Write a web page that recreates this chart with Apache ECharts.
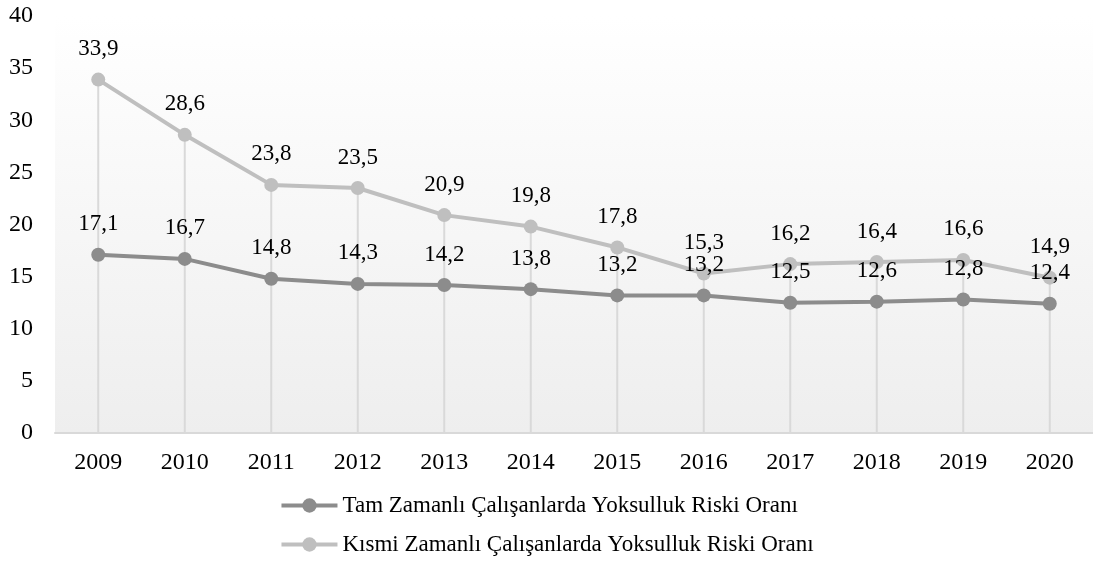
<!DOCTYPE html>
<html>
<head>
<meta charset="utf-8">
<script src="https://cdn.jsdelivr.net/npm/echarts@6/dist/echarts.min.js"></script>
<style>
  html, body { margin: 0; padding: 0; background: #fff; }
  #main { width: 1093px; height: 573px; }
</style>
</head>
<body>
<div id="main"></div>
<script>
// veriler
var years = ['2009', '2010', '2011', '2012', '2013', '2014', '2015', '2016', '2017', '2018', '2019', '2020'];
var tamName = 'Tam Zamanlı Çalışanlarda Yoksulluk Riski Oranı';
var kismiName = 'Kısmi Zamanlı Çalışanlarda Yoksulluk Riski Oranı';
var tamValues = [17.1, 16.7, 14.8, 14.3, 14.2, 13.8, 13.2, 13.2, 12.5, 12.6, 12.8, 12.4];
var kismiValues = [33.9, 28.6, 23.8, 23.5, 20.9, 19.8, 17.8, 15.3, 16.2, 16.4, 16.6, 14.9];

// dikey çizgiler (drop lines) en yüksek noktaya kadar
var dropValues = kismiValues.map(function (v, i) { return Math.max(v, tamValues[i]); });

var font = '"Liberation Serif", "Times New Roman", serif';
var fs = 23;
var axisFs = 24;
var fmt = function (p) { return String(p.value).replace('.', ','); };

var myChart = echarts.init(document.getElementById('main'));
var option = {
    backgroundColor: '#fff',
    animation: false,
    textStyle: { fontFamily: font },
    grid: {
        left: 55,
        right: -3,
        top: 16,
        bottom: 140,
        show: true,
        borderWidth: 0,
        backgroundColor: new echarts.graphic.LinearGradient(0, 0, 0, 1, [
            { offset: 0, color: '#ffffff' },
            { offset: 1, color: '#eeeeee' }
        ])
    },
    legend: {
        orient: 'vertical',
        left: 'center',
        top: 489,
        itemGap: 16,
        itemWidth: 56,
        itemHeight: 18,
        data: [tamName, kismiName],
        lineStyle: { width: 4 },
        textStyle: { fontFamily: font, fontSize: fs, color: '#000' }
    },
    xAxis: {
        type: 'category',
        data: years,
        axisLine: { lineStyle: { color: '#d9d9d9', width: 2 } },
        axisTick: { show: false },
        axisLabel: { fontFamily: font, fontSize: axisFs, color: '#000', margin: 18 }
    },
    yAxis: {
        type: 'value',
        min: 0,
        max: 40,
        interval: 5,
        axisLine: { show: false },
        axisTick: { show: false },
        splitLine: { show: false },
        axisLabel: { fontFamily: font, fontSize: axisFs, color: '#000', margin: 22, align: 'right' }
    },
    series: [{
        name: 'drop',
        type: 'bar',
        data: dropValues,
        barWidth: 2,
        silent: true,
        itemStyle: { color: '#d9d9d9' },
        z: 1
    }, {
        name: tamName,
        type: 'line',
        data: tamValues,
        symbol: 'circle',
        symbolSize: 14,
        lineStyle: { color: '#8c8c8c', width: 4 },
        itemStyle: { color: '#8c8c8c' },
        label: {
            show: true,
            position: 'top',
            distance: 12,
            fontFamily: font,
            fontSize: fs,
            color: '#000',
            formatter: fmt
        },
        z: 3
    }, {
        name: kismiName,
        type: 'line',
        data: kismiValues,
        symbol: 'circle',
        symbolSize: 14,
        lineStyle: { color: '#bfbfbf', width: 4 },
        itemStyle: { color: '#bfbfbf' },
        label: {
            show: true,
            position: 'top',
            distance: 12,
            fontFamily: font,
            fontSize: fs,
            color: '#000',
            formatter: fmt
        },
        z: 2
    }]
};
myChart.setOption(option);
window.addEventListener('resize', function () {
    myChart.resize();
});
</script>
</body>
</html>
